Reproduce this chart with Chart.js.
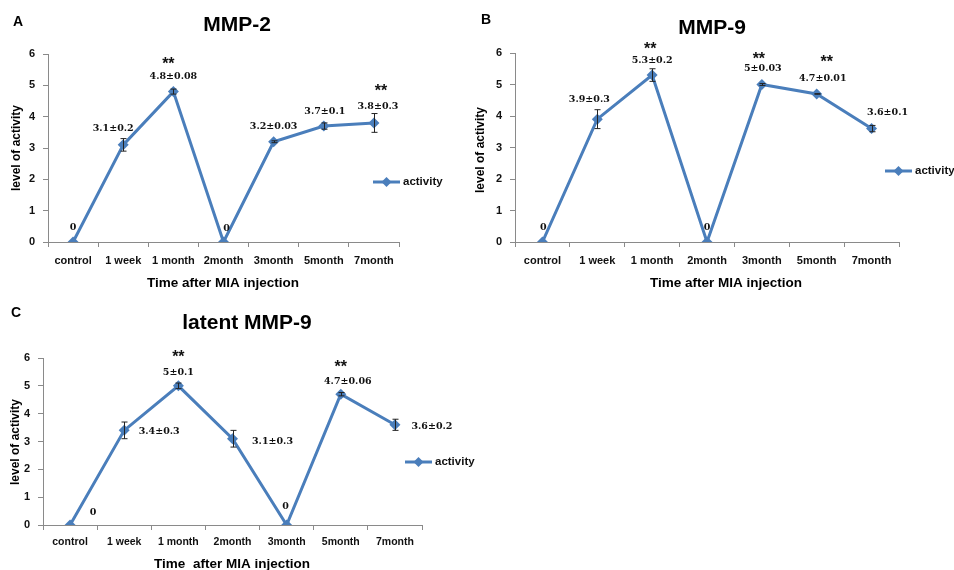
<!DOCTYPE html>
<html>
<head>
<meta charset="utf-8">
<script src="https://cdn.jsdelivr.net/npm/chart.js@4"></script>
<style>
  body { margin: 0; background: #fff; }
  #wrap { position: relative; width: 954px; height: 570px; overflow: hidden; }
  canvas { position: absolute; left: 0; top: 0; }
</style>
</head>
<body>
<div id="wrap">
  <canvas id="chartA" width="954" height="570"></canvas>
  <canvas id="chartB" width="954" height="570"></canvas>
  <canvas id="chartC" width="954" height="570"></canvas>
</div>
<script>
// data
const timePoints = ["control", "1 week", "1 month", "2month", "3month", "5month", "7month"];
const yTickValues = [0, 1, 2, 3, 4, 5, 6];

const mmp2Values = [0, 3.1, 4.8, 0, 3.2, 3.7, 3.8];
const mmp2Errors = [0, 0.2, 0.08, 0, 0.03, 0.1, 0.3];
const mmp2Stars = ["", "", "**", "", "", "", "**"];

const mmp9Values = [0, 3.9, 5.3, 0, 5, 4.7, 3.6];
const mmp9Errors = [0, 0.3, 0.2, 0, 0.03, 0.01, 0.1];
const mmp9Stars = ["", "", "**", "", "**", "**", ""];

const latentValues = [0, 3.4, 5, 3.1, 0, 4.7, 3.6];
const latentErrors = [0, 0.3, 0.1, 0.3, 0, 0.06, 0.2];
const latentStars = ["", "", "**", "", "", "**", ""];

const blue = "#4A7EBB";
const axisGrey = "#8a8a8a";
const sans = "'Liberation Sans', Arial, sans-serif";
const serif = "'DejaVu Serif', serif";
const axisW = 30;
const axisH = 30;

const panels = [
  {
    id: "chartA", letter: "A", title: "MMP-2", xTitle: "Time after MIA injection",
    values: mmp2Values, errors: mmp2Errors, stars: mmp2Stars,
    box: { left: 48, right: 399, top: 54, bottom: 242 },
    letterPos: [18, 22], titlePos: [237, 25], yTitlePos: [17, 148], xTitlePos: [223, 283],
    legendPos: [373, 182], tickFont: 11, tickPad: 7,
    labelOff: [[0, -14], [-10, -16], [0, -15], [3, -13], [0, -15], [1, -15], [4, -16]],
    starOff: [null, null, [-5, -32], null, null, null, [7, -36]]
  },
  {
    id: "chartB", letter: "B", title: "MMP-9", xTitle: "Time after MIA injection",
    values: mmp9Values, errors: mmp9Errors, stars: mmp9Stars,
    box: { left: 515, right: 899, top: 53, bottom: 242 },
    letterPos: [486, 20], titlePos: [712, 28], yTitlePos: [481, 150], xTitlePos: [726, 283],
    legendPos: [885, 171], tickFont: 11, tickPad: 7,
    labelOff: [[1, -14], [-8, -20], [0, -15], [0, -14], [1, -15.5], [6, -15], [16, -16]],
    starOff: [null, null, [-2, -30], null, [-3, -30], [10, -36], null]
  },
  {
    id: "chartC", letter: "C", title: "latent MMP-9", xTitle: "Time  after MIA injection",
    values: latentValues, errors: latentErrors, stars: latentStars,
    box: { left: 43, right: 422, top: 358, bottom: 525 },
    letterPos: [16, 313], titlePos: [247, 323], yTitlePos: [16, 442], xTitlePos: [232, 564],
    legendPos: [405, 462], tickFont: 10.5, tickPad: 6,
    labelOff: [[23, -12], [35, 1], [0, -13], [40, 3], [-1, -18], [7, -13], [37, 2]],
    starOff: [null, null, [0, -33], null, null, [0, -31], null]
  }
];

function diamond(ctx, x, y, r) {
  ctx.beginPath();
  ctx.moveTo(x, y - r);
  ctx.lineTo(x + r, y);
  ctx.lineTo(x, y + r);
  ctx.lineTo(x - r, y);
  ctx.closePath();
  ctx.fill();
}

function makeExtras(p) {
  return {
    id: "extras" + p.letter,
    afterDatasetsDraw(chart) {
      const ctx = chart.ctx;
      const pts = chart.getDatasetMeta(0).data;
      const ys = chart.scales.y;
      ctx.save();

      // error bars
      ctx.strokeStyle = "#222";
      ctx.lineWidth = 1;
      p.values.forEach((v, i) => {
        const e = p.errors[i];
        if (!e) return;
        const x = Math.round(pts[i].x) + 0.5;
        const top = ys.getPixelForValue(v + e);
        const bot = ys.getPixelForValue(v - e);
        ctx.beginPath();
        ctx.moveTo(x, top); ctx.lineTo(x, bot);
        ctx.moveTo(x - 3, top); ctx.lineTo(x + 3, top);
        ctx.moveTo(x - 3, bot); ctx.lineTo(x + 3, bot);
        ctx.stroke();
      });

      // value labels
      ctx.fillStyle = "#111";
      ctx.textAlign = "center";
      ctx.textBaseline = "middle";
      ctx.font = "bold 9.5px " + serif;
      p.values.forEach((v, i) => {
        const txt = v === 0 ? "0" : v + "±" + p.errors[i];
        ctx.fillText(txt, pts[i].x + p.labelOff[i][0], pts[i].y + p.labelOff[i][1]);
      });

      // significance stars
      ctx.font = "bold 16px " + sans;
      ctx.textBaseline = "alphabetic";
      p.stars.forEach((s, i) => {
        if (!s) return;
        const o = p.starOff[i];
        ctx.fillText(s, pts[i].x + o[0], pts[i].y + o[1] + 9);
      });

      // titles
      ctx.textBaseline = "middle";
      ctx.font = "bold 14px " + sans;
      ctx.textAlign = "left";
      ctx.fillStyle = "#000";
      ctx.fillText(p.letter, p.letterPos[0] - 5, p.letterPos[1]);
      ctx.textAlign = "center";
      ctx.font = "bold 21px " + sans;
      ctx.fillText(p.title, p.titlePos[0], p.titlePos[1]);
      ctx.font = "bold 13.5px " + sans;
      ctx.fillText(p.xTitle, p.xTitlePos[0], p.xTitlePos[1]);
      ctx.save();
      ctx.translate(p.yTitlePos[0], p.yTitlePos[1]);
      ctx.rotate(-Math.PI / 2);
      ctx.font = "bold 12px " + sans;
      ctx.fillText("level of activity", 0, 0);
      ctx.restore();

      // legend
      const [lx, ly] = p.legendPos;
      ctx.strokeStyle = blue;
      ctx.fillStyle = blue;
      ctx.lineWidth = 3;
      ctx.beginPath();
      ctx.moveTo(lx, ly); ctx.lineTo(lx + 27, ly);
      ctx.stroke();
      diamond(ctx, lx + 13.5, ly, 5);
      ctx.fillStyle = "#111";
      ctx.textAlign = "left";
      ctx.font = "bold 11.5px " + sans;
      ctx.fillText("activity", lx + 30, ly);

      ctx.restore();
    }
  };
}

panels.forEach((p) => {
  const b = p.box;
  new Chart(document.getElementById(p.id), {
    type: "line",
    data: {
      labels: timePoints,
      datasets: [{
        label: "activity",
        data: p.values,
        borderColor: blue,
        backgroundColor: blue,
        borderWidth: 3,
        tension: 0,
        pointStyle: "rectRot",
        pointRadius: 5.5,
        pointBorderWidth: 0,
        pointBackgroundColor: blue
      }]
    },
    options: {
      responsive: false,
      animation: false,
      devicePixelRatio: 1,
      layout: {
        padding: {
          left: b.left - axisW,
          right: 954 - b.right,
          top: b.top,
          bottom: 570 - b.bottom - axisH
        }
      },
      plugins: {
        legend: { display: false },
        tooltip: { enabled: false }
      },
      scales: {
        x: {
          type: "category",
          offset: true,
          afterFit: (s) => { s.height = axisH; },
          grid: { offset: true, drawOnChartArea: false, tickLength: 5, color: axisGrey },
          border: { color: axisGrey, width: 1 },
          ticks: {
            autoSkip: false, maxRotation: 0, padding: p.tickPad, color: "#111",
            font: { family: sans, size: p.tickFont, weight: "bold" }
          }
        },
        y: {
          min: yTickValues[0],
          max: yTickValues[yTickValues.length - 1],
          afterFit: (s) => { s.width = axisW; },
          afterBuildTicks: (s) => { s.ticks = yTickValues.map((v) => ({ value: v })); },
          grid: { drawOnChartArea: false, tickLength: 5, color: axisGrey },
          border: { color: axisGrey, width: 1 },
          ticks: {
            padding: 8, color: "#111",
            font: { family: sans, size: 11, weight: "bold" }
          }
        }
      }
    },
    plugins: [makeExtras(p)]
  });
});
</script>
</body>
</html>
